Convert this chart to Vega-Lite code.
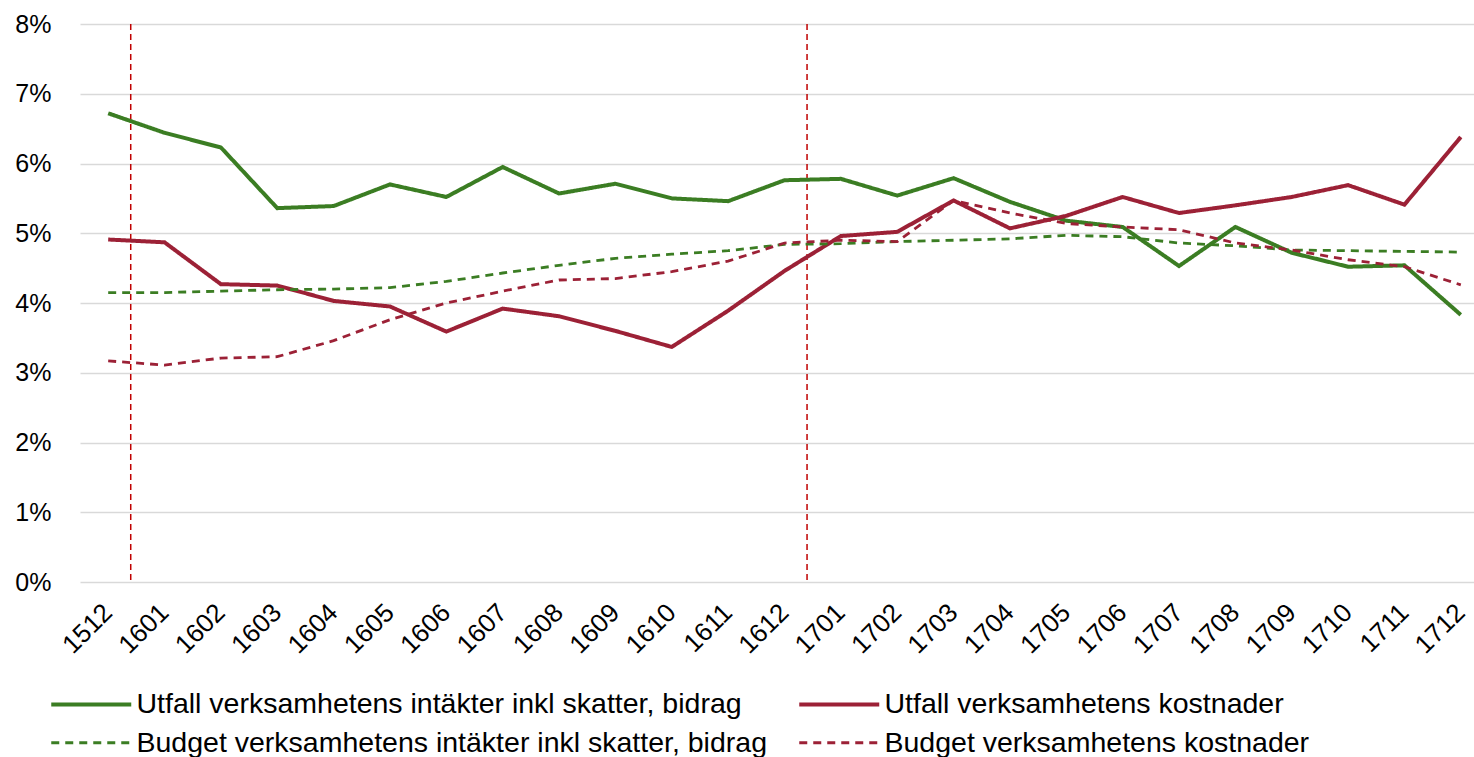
{
  "$schema": "https://vega.github.io/schema/vega-lite/v6.json",
  "autosize": "none",
  "width": 1394,
  "height": 558,
  "padding": {"left": 80, "top": 24, "right": 0, "bottom": 175},
  "background": "white",
  "config": {
    "view": {"stroke": null},
    "font": "Liberation Sans",
    "axis": {"labelFont": "Liberation Sans", "labelColor": "#000000"},
    "legend": {"labelFont": "Liberation Sans", "labelColor": "#000000"}
  },
  "datasets": {
    "series": [
      {"period": "1512", "serie": "Utfall verksamhetens intäkter inkl skatter, bidrag", "value": 6.72},
      {"period": "1601", "serie": "Utfall verksamhetens intäkter inkl skatter, bidrag", "value": 6.44},
      {"period": "1602", "serie": "Utfall verksamhetens intäkter inkl skatter, bidrag", "value": 6.23},
      {"period": "1603", "serie": "Utfall verksamhetens intäkter inkl skatter, bidrag", "value": 5.36},
      {"period": "1604", "serie": "Utfall verksamhetens intäkter inkl skatter, bidrag", "value": 5.39},
      {"period": "1605", "serie": "Utfall verksamhetens intäkter inkl skatter, bidrag", "value": 5.70},
      {"period": "1606", "serie": "Utfall verksamhetens intäkter inkl skatter, bidrag", "value": 5.52},
      {"period": "1607", "serie": "Utfall verksamhetens intäkter inkl skatter, bidrag", "value": 5.95},
      {"period": "1608", "serie": "Utfall verksamhetens intäkter inkl skatter, bidrag", "value": 5.57},
      {"period": "1609", "serie": "Utfall verksamhetens intäkter inkl skatter, bidrag", "value": 5.71},
      {"period": "1610", "serie": "Utfall verksamhetens intäkter inkl skatter, bidrag", "value": 5.50},
      {"period": "1611", "serie": "Utfall verksamhetens intäkter inkl skatter, bidrag", "value": 5.46},
      {"period": "1612", "serie": "Utfall verksamhetens intäkter inkl skatter, bidrag", "value": 5.76},
      {"period": "1701", "serie": "Utfall verksamhetens intäkter inkl skatter, bidrag", "value": 5.78},
      {"period": "1702", "serie": "Utfall verksamhetens intäkter inkl skatter, bidrag", "value": 5.54},
      {"period": "1703", "serie": "Utfall verksamhetens intäkter inkl skatter, bidrag", "value": 5.79},
      {"period": "1704", "serie": "Utfall verksamhetens intäkter inkl skatter, bidrag", "value": 5.45},
      {"period": "1705", "serie": "Utfall verksamhetens intäkter inkl skatter, bidrag", "value": 5.18},
      {"period": "1706", "serie": "Utfall verksamhetens intäkter inkl skatter, bidrag", "value": 5.09},
      {"period": "1707", "serie": "Utfall verksamhetens intäkter inkl skatter, bidrag", "value": 4.53},
      {"period": "1708", "serie": "Utfall verksamhetens intäkter inkl skatter, bidrag", "value": 5.09},
      {"period": "1709", "serie": "Utfall verksamhetens intäkter inkl skatter, bidrag", "value": 4.72},
      {"period": "1710", "serie": "Utfall verksamhetens intäkter inkl skatter, bidrag", "value": 4.52},
      {"period": "1711", "serie": "Utfall verksamhetens intäkter inkl skatter, bidrag", "value": 4.54},
      {"period": "1712", "serie": "Utfall verksamhetens intäkter inkl skatter, bidrag", "value": 3.83},

      {"period": "1512", "serie": "Utfall verksamhetens kostnader", "value": 4.91},
      {"period": "1601", "serie": "Utfall verksamhetens kostnader", "value": 4.87},
      {"period": "1602", "serie": "Utfall verksamhetens kostnader", "value": 4.27},
      {"period": "1603", "serie": "Utfall verksamhetens kostnader", "value": 4.25},
      {"period": "1604", "serie": "Utfall verksamhetens kostnader", "value": 4.03},
      {"period": "1605", "serie": "Utfall verksamhetens kostnader", "value": 3.95},
      {"period": "1606", "serie": "Utfall verksamhetens kostnader", "value": 3.59},
      {"period": "1607", "serie": "Utfall verksamhetens kostnader", "value": 3.92},
      {"period": "1608", "serie": "Utfall verksamhetens kostnader", "value": 3.81},
      {"period": "1609", "serie": "Utfall verksamhetens kostnader", "value": 3.60},
      {"period": "1610", "serie": "Utfall verksamhetens kostnader", "value": 3.37},
      {"period": "1611", "serie": "Utfall verksamhetens kostnader", "value": 3.89},
      {"period": "1612", "serie": "Utfall verksamhetens kostnader", "value": 4.46},
      {"period": "1701", "serie": "Utfall verksamhetens kostnader", "value": 4.96},
      {"period": "1702", "serie": "Utfall verksamhetens kostnader", "value": 5.02},
      {"period": "1703", "serie": "Utfall verksamhetens kostnader", "value": 5.47},
      {"period": "1704", "serie": "Utfall verksamhetens kostnader", "value": 5.07},
      {"period": "1705", "serie": "Utfall verksamhetens kostnader", "value": 5.25},
      {"period": "1706", "serie": "Utfall verksamhetens kostnader", "value": 5.52},
      {"period": "1707", "serie": "Utfall verksamhetens kostnader", "value": 5.29},
      {"period": "1708", "serie": "Utfall verksamhetens kostnader", "value": 5.40},
      {"period": "1709", "serie": "Utfall verksamhetens kostnader", "value": 5.52},
      {"period": "1710", "serie": "Utfall verksamhetens kostnader", "value": 5.69},
      {"period": "1711", "serie": "Utfall verksamhetens kostnader", "value": 5.41},
      {"period": "1712", "serie": "Utfall verksamhetens kostnader", "value": 6.38},

      {"period": "1512", "serie": "Budget verksamhetens intäkter inkl skatter, bidrag", "value": 4.15},
      {"period": "1601", "serie": "Budget verksamhetens intäkter inkl skatter, bidrag", "value": 4.15},
      {"period": "1602", "serie": "Budget verksamhetens intäkter inkl skatter, bidrag", "value": 4.17},
      {"period": "1603", "serie": "Budget verksamhetens intäkter inkl skatter, bidrag", "value": 4.19},
      {"period": "1604", "serie": "Budget verksamhetens intäkter inkl skatter, bidrag", "value": 4.20},
      {"period": "1605", "serie": "Budget verksamhetens intäkter inkl skatter, bidrag", "value": 4.22},
      {"period": "1606", "serie": "Budget verksamhetens intäkter inkl skatter, bidrag", "value": 4.31},
      {"period": "1607", "serie": "Budget verksamhetens intäkter inkl skatter, bidrag", "value": 4.43},
      {"period": "1608", "serie": "Budget verksamhetens intäkter inkl skatter, bidrag", "value": 4.54},
      {"period": "1609", "serie": "Budget verksamhetens intäkter inkl skatter, bidrag", "value": 4.64},
      {"period": "1610", "serie": "Budget verksamhetens intäkter inkl skatter, bidrag", "value": 4.70},
      {"period": "1611", "serie": "Budget verksamhetens intäkter inkl skatter, bidrag", "value": 4.75},
      {"period": "1612", "serie": "Budget verksamhetens intäkter inkl skatter, bidrag", "value": 4.84},
      {"period": "1701", "serie": "Budget verksamhetens intäkter inkl skatter, bidrag", "value": 4.85},
      {"period": "1702", "serie": "Budget verksamhetens intäkter inkl skatter, bidrag", "value": 4.88},
      {"period": "1703", "serie": "Budget verksamhetens intäkter inkl skatter, bidrag", "value": 4.90},
      {"period": "1704", "serie": "Budget verksamhetens intäkter inkl skatter, bidrag", "value": 4.92},
      {"period": "1705", "serie": "Budget verksamhetens intäkter inkl skatter, bidrag", "value": 4.97},
      {"period": "1706", "serie": "Budget verksamhetens intäkter inkl skatter, bidrag", "value": 4.95},
      {"period": "1707", "serie": "Budget verksamhetens intäkter inkl skatter, bidrag", "value": 4.86},
      {"period": "1708", "serie": "Budget verksamhetens intäkter inkl skatter, bidrag", "value": 4.82},
      {"period": "1709", "serie": "Budget verksamhetens intäkter inkl skatter, bidrag", "value": 4.76},
      {"period": "1710", "serie": "Budget verksamhetens intäkter inkl skatter, bidrag", "value": 4.75},
      {"period": "1711", "serie": "Budget verksamhetens intäkter inkl skatter, bidrag", "value": 4.74},
      {"period": "1712", "serie": "Budget verksamhetens intäkter inkl skatter, bidrag", "value": 4.73},

      {"period": "1512", "serie": "Budget verksamhetens kostnader", "value": 3.17},
      {"period": "1601", "serie": "Budget verksamhetens kostnader", "value": 3.11},
      {"period": "1602", "serie": "Budget verksamhetens kostnader", "value": 3.21},
      {"period": "1603", "serie": "Budget verksamhetens kostnader", "value": 3.23},
      {"period": "1604", "serie": "Budget verksamhetens kostnader", "value": 3.46},
      {"period": "1605", "serie": "Budget verksamhetens kostnader", "value": 3.76},
      {"period": "1606", "serie": "Budget verksamhetens kostnader", "value": 4.00},
      {"period": "1607", "serie": "Budget verksamhetens kostnader", "value": 4.17},
      {"period": "1608", "serie": "Budget verksamhetens kostnader", "value": 4.33},
      {"period": "1609", "serie": "Budget verksamhetens kostnader", "value": 4.35},
      {"period": "1610", "serie": "Budget verksamhetens kostnader", "value": 4.45},
      {"period": "1611", "serie": "Budget verksamhetens kostnader", "value": 4.60},
      {"period": "1612", "serie": "Budget verksamhetens kostnader", "value": 4.86},
      {"period": "1701", "serie": "Budget verksamhetens kostnader", "value": 4.90},
      {"period": "1702", "serie": "Budget verksamhetens kostnader", "value": 4.88},
      {"period": "1703", "serie": "Budget verksamhetens kostnader", "value": 5.47},
      {"period": "1704", "serie": "Budget verksamhetens kostnader", "value": 5.29},
      {"period": "1705", "serie": "Budget verksamhetens kostnader", "value": 5.14},
      {"period": "1706", "serie": "Budget verksamhetens kostnader", "value": 5.09},
      {"period": "1707", "serie": "Budget verksamhetens kostnader", "value": 5.05},
      {"period": "1708", "serie": "Budget verksamhetens kostnader", "value": 4.86},
      {"period": "1709", "serie": "Budget verksamhetens kostnader", "value": 4.76},
      {"period": "1710", "serie": "Budget verksamhetens kostnader", "value": 4.62},
      {"period": "1711", "serie": "Budget verksamhetens kostnader", "value": 4.52},
      {"period": "1712", "serie": "Budget verksamhetens kostnader", "value": 4.26}
    ],
    "markers": [
      {"period": "1512"},
      {"period": "1612"}
    ]
  },
  "layer": [
    {
      "data": {"name": "markers"},
      "mark": {"type": "rule", "color": "#C00000", "strokeWidth": 1.5, "strokeDash": [6, 4]},
      "encoding": {
        "x": {"field": "period", "type": "ordinal", "bandPosition": 0.9, "scale": {"type": "band", "range": [0, 1409], "paddingInner": 0, "paddingOuter": 0}}
      }
    },
    {
      "data": {"name": "series"},
      "mark": {"type": "line", "strokeCap": "butt", "strokeJoin": "miter"},
      "encoding": {
        "x": {
          "field": "period", "type": "ordinal", "bandPosition": 0.5,
          "scale": {"type": "band", "range": [0, 1409], "paddingInner": 0, "paddingOuter": 0},
          "axis": {"title": null, "labelAngle": -45, "labelAlign": "right", "labelBaseline": "middle", "labelFontSize": 26, "labelPadding": 26, "ticks": false, "domain": false, "grid": false}
        },
        "y": {
          "field": "value", "type": "quantitative",
          "scale": {"domain": [0, 8], "nice": false, "zero": true},
          "axis": {"title": null, "values": [0, 1, 2, 3, 4, 5, 6, 7, 8], "labelExpr": "datum.value + '%'", "labelFontSize": 25, "labelPadding": 29, "ticks": false, "domain": false, "grid": true, "gridColor": "#D9D9D9", "gridWidth": 1.5}
        },
        "color": {
          "field": "serie", "type": "nominal",
          "scale": {
            "domain": ["Utfall verksamhetens intäkter inkl skatter, bidrag", "Utfall verksamhetens kostnader", "Budget verksamhetens intäkter inkl skatter, bidrag", "Budget verksamhetens kostnader"],
            "range": ["#3B7D23", "#9C2136", "#3B7D23", "#9C2136"]
          },
          "legend": {
            "title": null, "orient": "none", "legendX": -33, "legendY": 666, "columns": 2, "direction": "horizontal",
            "symbolType": "M-1,0H7", "symbolSize": 400, "labelFontSize": 28.5, "labelOffset": 61, "columnPadding": 24, "rowPadding": 9.5, "labelLimit": 1000
          }
        },
        "strokeDash": {
          "field": "serie", "type": "nominal",
          "scale": {
            "domain": ["Utfall verksamhetens intäkter inkl skatter, bidrag", "Utfall verksamhetens kostnader", "Budget verksamhetens intäkter inkl skatter, bidrag", "Budget verksamhetens kostnader"],
            "range": [[1, 0], [1, 0], [8, 6], [8, 6]]
          },
          "legend": {
            "title": null, "orient": "none", "legendX": -33, "legendY": 666, "columns": 2, "direction": "horizontal",
            "symbolType": "M-1,0H7", "symbolSize": 400, "labelFontSize": 28.5, "labelOffset": 61, "columnPadding": 24, "rowPadding": 9.5, "labelLimit": 1000
          }
        },
        "strokeWidth": {
          "field": "serie", "type": "nominal",
          "scale": {
            "type": "ordinal",
            "domain": ["Utfall verksamhetens intäkter inkl skatter, bidrag", "Utfall verksamhetens kostnader", "Budget verksamhetens intäkter inkl skatter, bidrag", "Budget verksamhetens kostnader"],
            "range": [4, 4, 2.8, 2.8]
          },
          "legend": {
            "title": null, "orient": "none", "legendX": -33, "legendY": 666, "columns": 2, "direction": "horizontal",
            "symbolType": "M-1,0H7", "symbolSize": 400, "labelFontSize": 28.5, "labelOffset": 61, "columnPadding": 24, "rowPadding": 9.5, "labelLimit": 1000
          }
        }
      }
    }
  ]
}
